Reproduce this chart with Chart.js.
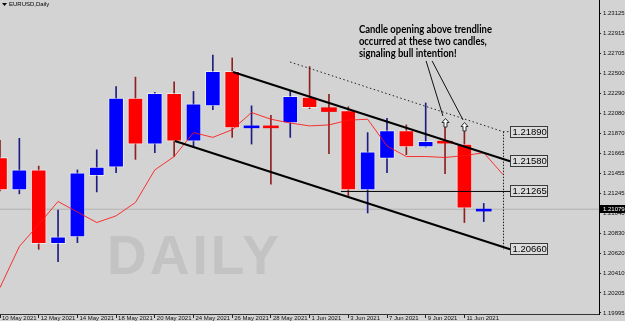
<!DOCTYPE html>
<html><head><meta charset="utf-8">
<script src="https://cdn.jsdelivr.net/npm/chart.js@4"></script>
<style>html,body{margin:0;padding:0;background:#d3d3d3;overflow:hidden}</style>
</head><body>
<canvas id="c" width="625" height="321"></canvas>
<script>
// ---- data ----
const dates = ['10 May 2021','11 May 2021','12 May 2021','13 May 2021','14 May 2021','17 May 2021','18 May 2021','19 May 2021','20 May 2021','21 May 2021','24 May 2021','25 May 2021','26 May 2021','27 May 2021','28 May 2021','31 May 2021','1 Jun 2021','2 Jun 2021','3 Jun 2021','4 Jun 2021','7 Jun 2021','8 Jun 2021','9 Jun 2021','10 Jun 2021','11 Jun 2021','14 Jun 2021'];
const openP  = [1.2162,1.2128,1.2149,1.2072,1.2079,1.2143,1.2152,1.2224,1.2176,1.2229,1.2179,1.2216,1.2252,1.2193,1.2195,1.2198,1.2225,1.2214,1.2211,1.2128,1.2161,1.2190,1.2173,1.2179,1.2176,1.2106];
const highP  = [1.2180,1.2182,1.2153,1.2107,1.2149,1.2170,1.2236,1.2246,1.2230,1.2241,1.2231,1.2269,1.2266,1.2216,1.2206,1.2231,1.2257,1.2228,1.2215,1.2188,1.2203,1.2196,1.2219,1.2194,1.2193,1.2114];
const lowP   = [1.2127,1.2124,1.2066,1.2053,1.2073,1.2126,1.2146,1.2160,1.2167,1.2163,1.2173,1.2212,1.2183,1.2176,1.2134,1.2183,1.2213,1.2166,1.2121,1.2104,1.2146,1.2165,1.2173,1.2145,1.2094,1.2095];
const closeP = [1.2128,1.2149,1.2072,1.2079,1.2146,1.2152,1.2224,1.2176,1.2229,1.2179,1.2218,1.2252,1.2193,1.2195,1.2193,1.2226,1.2214,1.2210,1.2128,1.2168,1.2190,1.2173,1.2179,1.2177,1.2109,1.2108];
// moving average (shifted one bar forward, so one extra point)
const maValues = [1.2026,1.2069,1.2092,1.2116,1.2105,1.2094,1.2101,1.2115,1.2149,1.2163,1.2188,1.2183,1.2191,1.2209,1.2202,1.2198,1.2195,1.2196,1.2201,1.2202,1.2174,1.2163,1.2163,1.2162,1.2164,1.2167,1.2144];
const xTickIdx = [0,2,4,6,8,10,12,14,16,18,20,22,24];
const yTickValues = [1.23125,1.22915,1.22705,1.22500,1.22290,1.22080,1.21870,1.21665,1.21455,1.21245,1.21040,1.20830,1.20620,1.20410,1.20205,1.19995];
const currentPrice = 1.21079;
const priceLabels = [1.21890,1.21580,1.21265,1.20660];
const labelBarPos = 26.36;
const upperTrend = [{x:12.04,y:1.22514},{x:26.36,y:1.21580}];
const lowerTrend = [{x:9.04,y:1.21793},{x:26.36,y:1.20660}];
const dottedTrend = [{x:14.99,y:1.22618},{x:26.0,y:1.21890},{x:26.36,y:1.21890}];
const levelLine = [{x:17.62,y:1.21265},{x:26.36,y:1.21265}];
const verticalDotted = [{x:26.02,y:1.21890},{x:26.02,y:1.20660}];
const pointer1 = [{x:22.02,y:1.22629},{x:22.89,y:1.22054}];
const pointer2 = [{x:22.33,y:1.22629},{x:23.93,y:1.22012}];
const arrowMarks = [{x:23,y:1.22033},{x:24,y:1.21991}];
const noteLines = ['Candle opening above trendline','occurred at these two candles,','signaling bull intention!'];
const noteAnchor = {x:18.55,y:1.22916};
const watermark = 'DAILY';
const watermarkAnchor = {x:10.05,y:1.20403};
const chartTitle = 'EURUSD,Daily';
const xMin = 0, xMax = 30.956, yMin = 1.19984, yMax = 1.23266;

// ---- build ----
const idx = dates.map((d,i)=>i);
const isUp = i => closeP[i] >= openP[i];
const bodyData = idx.map(i=>({x:i, y:[openP[i], closeP[i]]}));
const wickData = idx.map(i=>({x:i, y:[lowP[i], highP[i]]}));
const maData = maValues.map((v,i)=>({x:i,y:v}));
const lineDs = (data, color, width, dash, order) => ({type:'line', data, borderColor:color, borderWidth:width, borderDash:dash||[], pointRadius:0, tension:0, fill:false, order});
const noPad = s => { s.paddingTop = 0; s.paddingBottom = 0; s.paddingLeft = 0; s.paddingRight = 0; };

const deco = {
  id:'deco',
  beforeDraw(chart){
    const c = chart.ctx; c.save(); c.fillStyle='#d3d3d3'; c.fillRect(0,0,chart.width,chart.height); c.restore();
  },
  beforeDatasetsDraw(chart){
    const {ctx:c, scales:{x,y}} = chart;
    c.save();
    c.font = 'bold 55px "Liberation Sans"';
    c.letterSpacing = '3px';
    c.fillStyle = '#c3c3c3'; c.textAlign='center'; c.textBaseline='alphabetic';
    c.fillText(watermark, x.getPixelForValue(watermarkAnchor.x), y.getPixelForValue(watermarkAnchor.y));
    c.restore();
  },
  afterDatasetsDraw(chart){
    const {ctx:c, scales:{x,y}} = chart;
    c.save();
    // arrows
    arrowMarks.forEach(a=>{
      const cx = Math.round(x.getPixelForValue(a.x))+0.5, t = Math.round(y.getPixelForValue(a.y))+0.5;
      c.beginPath();
      c.moveTo(cx,t); c.lineTo(cx+3.5,t+4); c.lineTo(cx+1.5,t+4); c.lineTo(cx+1.5,t+8.5);
      c.lineTo(cx-1.5,t+8.5); c.lineTo(cx-1.5,t+4); c.lineTo(cx-3.5,t+4); c.closePath();
      c.fillStyle='#ffffff'; c.fill(); c.strokeStyle='#2a2a2a'; c.lineWidth=1; c.stroke();
    });
    // price labels
    c.font = '9.5px "Liberation Sans"'; c.textAlign='left'; c.textBaseline='middle';
    priceLabels.forEach(v=>{
      const px = Math.round(x.getPixelForValue(labelBarPos))+0.5, py = Math.round(y.getPixelForValue(v));
      c.fillStyle='#dcdcdc'; c.fillRect(px, py-5.5, 37, 11);
      c.strokeStyle='#3a3a3a'; c.lineWidth=1; c.strokeRect(px, py-5.5, 37, 11);
      c.fillStyle='#000'; c.fillText(v.toFixed(5), px+2, py+0.5);
    });
    // note text (condensed)
    c.font = 'bold 10.5px Lato'; c.fillStyle='#000'; c.textBaseline='alphabetic';
    const nx = x.getPixelForValue(noteAnchor.x), ny = y.getPixelForValue(noteAnchor.y);
    const sx = 133 / c.measureText(noteLines[0]).width;
    c.save(); c.translate(nx, ny); c.scale(sx, 1);
    noteLines.forEach((t,k)=> c.fillText(t, 0, k*11.8));
    c.restore();
    // title
    c.font = '6px "Liberation Sans"'; c.textBaseline='middle';
    const l = chart.chartArea.left;
    c.beginPath(); c.moveTo(l+2,3); c.lineTo(l+7,3); c.lineTo(l+4.5,6); c.closePath(); c.fillStyle='#000'; c.fill();
    c.fillText(chartTitle, l+9, 4.5);
    c.restore();
  },
  afterDraw(chart){
    const {ctx:c, scales:{y}} = chart;
    const py = Math.round(y.getPixelForValue(currentPrice));
    const l = chart.chartArea.right;
    c.save();
    c.fillStyle='#000'; c.fillRect(l, py-4, chart.width-l, 8);
    c.fillStyle='#fff'; c.font='6px "Liberation Sans"'; c.textAlign='left'; c.textBaseline='middle';
    c.fillText(currentPrice.toFixed(5), l+4, py+0.5);
    c.restore();
  }
};

new Chart(document.getElementById('c'), {
  type:'bar',
  data:{ datasets:[
    lineDs([{x:xMin,y:currentPrice},{x:xMax,y:currentPrice}], '#b2b2b2', 1, null, 20),
    {type:'bar', data:wickData, grouped:false, barThickness:1, borderWidth:0, borderSkipped:false,
      backgroundColor: idx.map(i=> isUp(i) ? '#1e1e82' : '#8e2020'), order:10},
    {type:'bar', data:bodyData, grouped:false, barThickness:15, borderSkipped:false,
      backgroundColor: idx.map(i=> isUp(i) ? '#0000ff' : '#ff0000'),
      borderColor:'rgba(255,255,255,0.55)',
      borderWidth: ctx => Math.abs(openP[ctx.dataIndex]-closeP[ctx.dataIndex]) > 0.0005 ? 1 : 0,
      order:9},
    lineDs(maData, 'rgba(255,20,20,0.85)', 1, null, 8),
    lineDs(upperTrend, '#000', 2, null, 5),
    lineDs(lowerTrend, '#000', 2, null, 5),
    lineDs(dottedTrend, '#222', 1, [1.5,2.5], 5),
    lineDs(levelLine, '#000', 1, null, 5),
    lineDs(verticalDotted, '#222', 1, [1.5,1.5], 5),
    lineDs(pointer1, '#111', 1, null, 4),
    lineDs(pointer2, '#111', 1, null, 4)
  ]},
  options:{
    responsive:false, animation:false, devicePixelRatio:1,
    layout:{padding:0},
    plugins:{legend:{display:false}, tooltip:{enabled:false}, title:{display:false}},
    scales:{
      x:{ type:'linear', min:xMin, max:xMax, offset:false,
        afterBuildTicks: s => { s.ticks = xTickIdx.map(v=>({value:v})); },
        afterFit: s => { s.height = 7; noPad(s); },
        ticks:{ callback: v => dates[v] ?? '', autoSkip:false, maxRotation:0, minRotation:0, align:'start', labelOffset:2, padding:-3,
          font:{family:'Liberation Sans', size:6}, color:'#111' },
        grid:{ drawOnChartArea:false, offset:false, drawTicks:true, tickLength:4, color:'#222', tickWidth:1 },
        border:{ display:true, color:'#333', width:1 }
      },
      y:{ type:'linear', position:'right', min:yMin, max:yMax,
        afterBuildTicks: s => { s.ticks = yTickValues.map(v=>({value:v})); },
        afterFit: s => { s.width = 26; noPad(s); },
        ticks:{ callback: v => Number(v).toFixed(5), autoSkip:false, padding:2,
          font:{family:'Liberation Sans', size:6}, color:'#111' },
        grid:{ drawOnChartArea:false, drawTicks:true, tickLength:2, color:'#222' },
        border:{ display:true, color:'#000', width:1 }
      }
    }
  },
  plugins:[deco]
});
</script>
</body></html>
